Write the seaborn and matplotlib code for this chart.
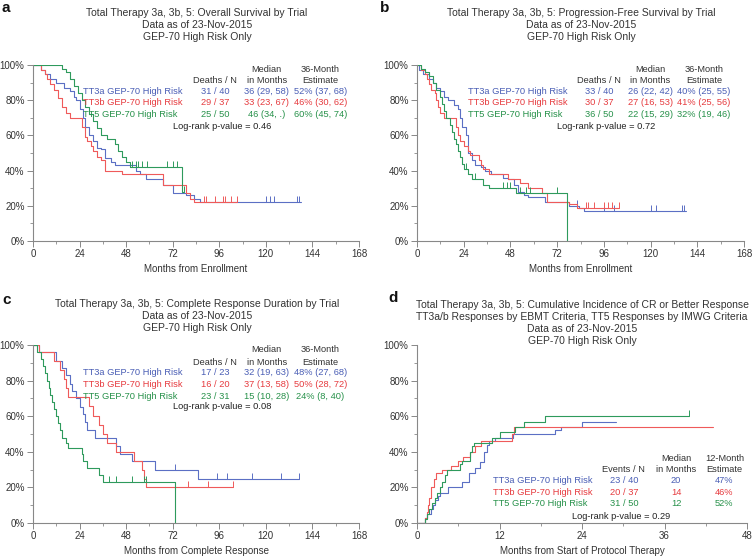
import matplotlib
matplotlib.use("Agg")
import matplotlib.pyplot as plt
import seaborn as sns
import numpy as np
from matplotlib.ticker import MultipleLocator, PercentFormatter

sns.set_style("ticks")
plt.rcParams["font.family"] = ["Liberation Sans", "DejaVu Sans"]

W, H = 752, 557
BLUE, RED, GREEN = "#5b6fc4", "#ef5a5a", "#2e9a5c"
TBLUE, TRED, TGREEN = "#4a5eb5", "#e63b3f", "#27914a"
GREY = "#888888"

groups = ["TT3a GEP-70 High Risk", "TT3b GEP-70 High Risk", "TT5 GEP-70 High Risk"]

# ---- panel a: overall survival ----
a_blue_t = [0, 4, 6, 9, 12, 16, 19, 21, 22, 24, 26, 27, 29, 31, 33, 35, 37, 40, 42, 53, 55, 58, 67, 72, 79, 83, 86]
a_blue_s = [100, 97, 95, 92, 90, 87, 85, 82, 80, 75, 70, 65, 60, 57, 53, 52, 47, 45, 43, 40, 38, 35, 32, 27, 26, 24, 22]
a_blue_end = 138
a_blue_cens = [120, 122, 124, 136, 137]
a_red_t = [0, 4, 6, 7, 9, 11, 13, 15, 17, 19, 25, 27, 28, 30, 31, 33, 35, 37, 46, 67, 79, 81, 83]
a_red_s = [100, 97, 95, 92, 89, 86, 81, 76, 73, 70, 65, 59, 57, 54, 51, 48, 46, 40, 38, 32, 27, 24, 22]
a_red_end = 105
a_red_cens = [88, 89, 94, 98, 99, 102, 105]
a_green_t = [0, 15, 17, 19, 21, 23, 25, 27, 29, 31, 33, 35, 38, 42, 44, 46, 48, 50, 77]
a_green_s = [100, 98, 96, 92, 88, 84, 80, 76, 72, 68, 64, 60, 58, 55, 51, 48, 45, 42, 28]
a_green_end = 78
a_green_cens = [51, 53, 54, 56, 59, 69, 72, 74, 78]
a_deaths = ["31 / 40", "29 / 37", "25 / 50"]
a_median = ["36 (29, 58)", "33 (23, 67)", "46 (34, .)"]
a_est = ["52% (37, 68)", "46% (30, 62)", "60% (45, 74)"]

# ---- panel b: progression-free survival ----
b_blue_t = [0, 1, 3, 6, 8, 10, 12, 14, 16, 19, 21, 22, 23, 25, 26, 28, 30, 33, 35, 38, 44, 47, 50, 52, 55, 57, 66, 78, 83, 86]
b_blue_s = [100, 97, 95, 92, 90, 87, 85, 82, 80, 77, 75, 70, 65, 60, 50, 46, 43, 42, 40, 38, 36, 35, 32, 28, 26, 25, 22, 20, 19, 17]
b_blue_end = 138
b_blue_cens = [82, 96, 101, 120, 123, 136, 137]
b_red_t = [0, 2, 4, 5, 6, 7, 9, 10, 11, 12, 14, 20, 21, 22, 24, 26, 27, 32, 33, 34, 37, 47, 53, 57, 64, 67, 78, 82]
b_red_s = [100, 97, 95, 92, 89, 86, 84, 80, 76, 73, 70, 65, 60, 57, 54, 51, 49, 46, 43, 41, 38, 35, 33, 30, 27, 22, 21, 19]
b_red_end = 104
b_red_cens = [87, 88, 91, 96, 98, 100, 104]
b_green_t = [0, 2, 4, 6, 8, 10, 12, 13, 14, 15, 17, 18, 19, 20, 21, 22, 23, 24, 26, 28, 34, 37, 51, 77]
b_green_s = [100, 98, 96, 94, 90, 86, 82, 78, 74, 70, 66, 62, 58, 55, 51, 48, 44, 41, 38, 35, 32, 30, 27, 0]
b_green_end = 77
b_green_cens = [25, 30, 44, 46, 48, 53, 56, 58, 72]
b_deaths = ["33 / 40", "30 / 37", "36 / 50"]
b_median = ["26 (22, 42)", "27 (16, 53)", "22 (15, 29)"]
b_est = ["40% (25, 55)", "41% (25, 56)", "32% (19, 46)"]

# ---- panel c: complete response duration ----
c_blue_t = [0, 3, 12, 15, 17, 19, 20, 22, 24, 26, 27, 28, 32, 43, 45, 51, 63, 85]
c_blue_s = [100, 96, 91, 87, 83, 78, 74, 70, 65, 61, 57, 52, 48, 43, 39, 35, 30, 25]
c_blue_end = 137
c_blue_cens = [73, 95, 100, 113, 128, 137]
c_red_t = [0, 3, 11, 14, 16, 17, 18, 29, 31, 34, 36, 38, 43, 52, 56, 57, 58]
c_red_s = [100, 96, 91, 86, 81, 76, 71, 66, 60, 55, 50, 45, 40, 35, 30, 25, 20]
c_red_end = 103
c_red_cens = [80, 90, 103]
c_green_t = [0, 2, 4, 5, 6, 7, 8, 9, 10, 11, 12, 13, 14, 15, 17, 18, 25, 26, 28, 34, 36, 73]
c_green_s = [100, 96, 92, 88, 84, 80, 76, 72, 68, 64, 60, 56, 52, 48, 45, 42, 39, 35, 31, 27, 23, 0]
c_green_end = 73
c_green_cens = [36, 39, 43, 51, 57, 58]
c_deaths = ["17 / 23", "16 / 20", "23 / 31"]
c_median = ["32 (19, 63)", "37 (13, 58)", "15 (10, 28)"]
c_est = ["48% (27, 68)", "50% (28, 72)", "24% (8, 40)"]

# ---- panel d: cumulative incidence of CR ----
d_blue_t = [0, 1.2, 1.5, 2, 2.3, 2.6, 3, 3.4, 4.5, 6.5, 7.5, 8.4, 9.2, 9.8, 10.2, 10.5, 11.4, 14, 20, 21, 24]
d_blue_s = [0, 3, 5, 8, 10, 13, 15, 17, 20, 23, 28, 31, 34, 40, 44, 46, 48, 50, 52, 54, 57]
d_blue_end = 29
d_red_t = [0, 1.2, 1.4, 1.6, 1.8, 2.1, 2.4, 2.8, 3.6, 5, 6, 6.7, 7.7, 8.4, 9.3, 13.8, 14.1]
d_red_s = [0, 3, 6, 10, 14, 20, 25, 28, 30, 32, 35, 37, 40, 43, 46, 50, 54]
d_red_end = 43
d_green_t = [0, 1.1, 1.4, 1.8, 2.2, 2.6, 2.9, 3.3, 3.7, 4.1, 4.4, 6.3, 6.6, 7.7, 8, 8.3, 10.9, 12, 14.2, 15.5, 18.6]
d_green_s = [0, 2, 5, 8, 11, 14, 17, 20, 23, 27, 30, 33, 35, 40, 43, 45, 48, 51, 54, 57, 60]
d_green_end = 39.5
d_green_cens = [39.5]
d_events = ["23 / 40", "20 / 37", "31 / 50"]
d_median = ["20", "14", "12"]
d_est = ["47%", "46%", "52%"]


def fr(x0, y0, x1, y1):
    # pixel box -> figure fraction
    return [x0 / W, 1 - y1 / H, (x1 - x0) / W, (y1 - y0) / H]


def curve(ax, t, s, end, cens, color):
    tt = list(t) + [end]
    ss = list(s) + [s[-1]]
    sns.lineplot(x=tt, y=ss, drawstyle="steps-post", color=color, lw=0.8,
                 estimator=None, sort=False, ax=ax)
    if cens:
        cy = [s[np.searchsorted(t, c, side="right") - 1] for c in cens]
        ax.plot(cens, cy, ls="none", marker=2, ms=4, mew=0.7, color=color)


def style(ax, xmax, major, xlabel):
    ax.set_xlim(0, xmax)
    ax.set_ylim(0, 100)
    ax.xaxis.set_major_locator(MultipleLocator(major))
    ax.xaxis.set_minor_locator(MultipleLocator(major / 2))
    ax.yaxis.set_major_locator(MultipleLocator(20))
    ax.yaxis.set_minor_locator(MultipleLocator(10))
    ax.yaxis.set_major_formatter(PercentFormatter(decimals=0))
    sns.despine(ax=ax)
    for sp in ["left", "bottom"]:
        ax.spines[sp].set_color(GREY)
        ax.spines[sp].set_linewidth(0.8)
    ax.tick_params(which="major", length=4, width=0.7, color=GREY, labelsize=7, pad=2, labelcolor="#333333")
    ax.tick_params(which="minor", length=2, width=0.6, color=GREY)
    ax.set_xlabel(xlabel, fontsize=7, color="#333333", labelpad=3)
    ax.set_ylabel("")


def table(ax, xs, ys, head, cols):
    tc = [TBLUE, TRED, TGREEN]
    fs = 6.7
    for (x, h1, h2) in zip(xs[1:], head[0], head[1]):
        ax.text(x, ys[0], h1, ha="center", va="center", fontsize=fs, color="#333333")
        ax.text(x, ys[1], h2, ha="center", va="center", fontsize=fs, color="#333333")
    for i in range(3):
        ax.text(xs[0], ys[2 + i], groups[i], ha="left", va="center", fontsize=fs, color=tc[i])
        for j, col in enumerate(cols):
            ax.text(xs[1 + j], ys[2 + i], col[i], ha="center", va="center", fontsize=fs, color=tc[i])


fig = plt.figure(figsize=(W / 100, H / 100), dpi=100)

surv_head = [["", "Median", "36-Month"], ["Deaths / N", "in Months", "Estimate"]]
ys = [97.5, 91, 85, 78.5, 72, 65.3]
xs = [25.8, 93.8, 120.5, 148]

# a
ax = fig.add_axes(fr(33, 65, 359, 241))
curve(ax, a_blue_t, a_blue_s, a_blue_end, a_blue_cens, BLUE)
curve(ax, a_red_t, a_red_s, a_red_end, a_red_cens, RED)
curve(ax, a_green_t, a_green_s, a_green_end, a_green_cens, GREEN)
style(ax, 168, 24, "Months from Enrollment")
table(ax, xs, ys, surv_head, [a_deaths, a_median, a_est])
ax.text(97.4, ys[5], "Log-rank p-value = 0.46", ha="center", va="center", fontsize=6.7, color="#222222")

# b
ax = fig.add_axes(fr(417, 65, 744, 241))
curve(ax, b_blue_t, b_blue_s, b_blue_end, b_blue_cens, BLUE)
curve(ax, b_red_t, b_red_s, b_red_end, b_red_cens, RED)
curve(ax, b_green_t, b_green_s, b_green_end, b_green_cens, GREEN)
style(ax, 168, 24, "Months from Enrollment")
table(ax, [26.2, 93.5, 120, 147.5], ys, surv_head, [b_deaths, b_median, b_est])
ax.text(97, ys[5], "Log-rank p-value = 0.72", ha="center", va="center", fontsize=6.7, color="#222222")

# c
ax = fig.add_axes(fr(33, 345, 359, 523))
curve(ax, c_blue_t, c_blue_s, c_blue_end, c_blue_cens, BLUE)
curve(ax, c_red_t, c_red_s, c_red_end, c_red_cens, RED)
curve(ax, c_green_t, c_green_s, c_green_end, c_green_cens, GREEN)
style(ax, 168, 24, "Months from Complete Response")
table(ax, xs, [97.2, 90.4, 84.3, 78, 71.3, 65.2], surv_head, [c_deaths, c_median, c_est])
ax.text(97.4, 65.2, "Log-rank p-value = 0.08", ha="center", va="center", fontsize=6.7, color="#222222")

# d
ax = fig.add_axes(fr(417, 345, 747, 523))
curve(ax, d_blue_t, d_blue_s, d_blue_end, [], BLUE)
curve(ax, d_red_t, d_red_s, d_red_end, [], RED)
curve(ax, d_green_t, d_green_s, d_green_end, d_green_cens, GREEN)
style(ax, 48, 12, "Months from Start of Protocol Therapy")
inc_head = [["", "Median", "12-Month"], ["Events / N", "in Months", "Estimate"]]
table(ax, [11.05, 30.1, 37.7, 44.7], [36.5, 29.8, 23.6, 17.4, 11.2, 3.9], inc_head, [d_events, d_median, d_est])
ax.text(29.7, 3.9, "Log-rank p-value = 0.29", ha="center", va="center", fontsize=6.7, color="#222222")

# titles
tkw = dict(ha="center", va="center", fontsize=7.45, color="#333333", linespacing=1.25)
fig.text(197 / W, 1 - 25.5 / H, "Total Therapy 3a, 3b, 5: Overall Survival by Trial\nData as of 23-Nov-2015\nGEP-70 High Risk Only", **tkw)
fig.text(581 / W, 1 - 25.5 / H, "Total Therapy 3a, 3b, 5: Progression-Free Survival by Trial\nData as of 23-Nov-2015\nGEP-70 High Risk Only", **tkw)
fig.text(197 / W, 1 - 316 / H, "Total Therapy 3a, 3b, 5: Complete Response Duration by Trial\nData as of 23-Nov-2015\nGEP-70 High Risk Only", **tkw)
fig.text(582 / W, 1 - 322.5 / H, "Total Therapy 3a, 3b, 5: Cumulative Incidence of CR or Better Response\nTT3a/b Responses by EBMT Criteria, TT5 Responses by IMWG Criteria\nData as of 23-Nov-2015\nGEP-70 High Risk Only", **tkw)

lkw = dict(ha="left", va="center", fontsize=11, fontweight="bold", color="#111111")
fig.text(2 / W, 1 - 8 / H, "a", **lkw)
fig.text(380 / W, 1 - 8 / H, "b", **lkw)
fig.text(2 / W, 1 - 300 / H, "c", **lkw)
fig.text(388 / W, 1 - 298 / H, "d", **lkw)

fig.savefig("out.png", dpi=100)
